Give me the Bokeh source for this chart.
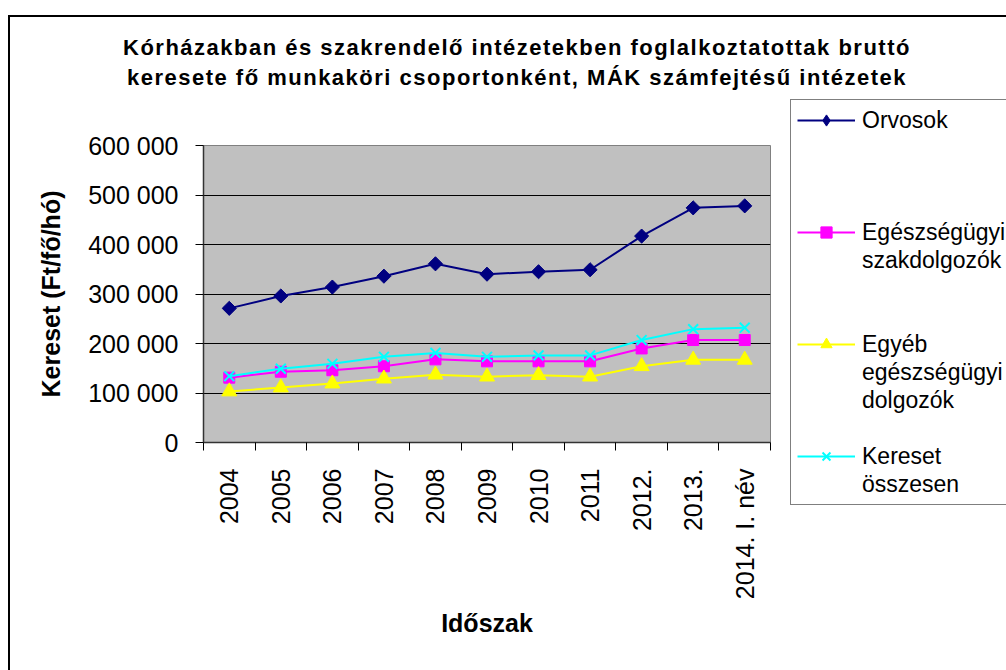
import numpy as np
from bokeh.plotting import figure
from bokeh.models import (FixedTicker, Legend, LegendItem, Range1d, Div)
from bokeh.layouts import column, row
from bokeh.embed import file_html
from bokeh.resources import INLINE

# ---------------- data ----------------
categories = ["2004", "2005", "2006", "2007", "2008", "2009", "2010", "2011",
              "2012.", "2013.", "2014. I. név"]
orvosok = [271000, 296000, 314000, 336000, 361000, 340000, 345000, 349000, 417000, 474000, 478000]
szakdolgozok = [131000, 143000, 146000, 154000, 168000, 164000, 164000, 164000, 190000, 207000, 207000]
egyeb = [103000, 111000, 119000, 129000, 137000, 133000, 136000, 133000, 154000, 167000, 167000]
osszesen = [134000, 149000, 159000, 173000, 181000, 173000, 176000, 176000, 207000, 229000, 232000]
y_ticks = [0, 100000, 200000, 300000, 400000, 500000, 600000]
y_tick_labels = ["0", "100 000", "200 000", "300 000", "400 000", "500 000", "600 000"]
series_names = ["Orvosok", "Egészségügyi\nszakdolgozók", "Egyéb\negészségügyi\ndolgozók",
                "Kereset\nösszesen"]
title_lines = ["Kórházakban és szakrendelő intézetekben foglalkoztatottak bruttó",
               "keresete fő munkaköri csoportonként, MÁK számfejtésű intézetek"]
y_title = "Kereset (Ft/fő/hó)"
x_title = "Időszak"

FONT = "Liberation Sans"

xs = [i + 0.5 for i in range(len(categories))]
x_bounds = list(range(len(categories) + 1))

series_styles = [
    dict(color="#000080", marker="square", angle=np.pi / 4, size=10, legend_marker="diamond"),
    dict(color="#FF00FF", marker="square", angle=0, size=11, legend_marker="square"),
    dict(color="#FFFF00", marker="triangle", angle=0, size=15, legend_marker="triangle"),
    dict(color="#00FFFF", marker="x", angle=0, size=14, legend_marker="x"),
]
series_values = [orvosok, szakdolgozok, egyeb, osszesen]

# ---------------- title ----------------
title_div = Div(
    text=("<div style=\"font-family:'Liberation Sans',Arial,sans-serif;font-weight:bold;"
          "font-size:22px;line-height:30px;letter-spacing:1.5px;text-align:center;"
          "padding-left:113px;padding-top:16px;white-space:nowrap;color:black\">"
          + "<br>".join(title_lines) + "</div>"),
    width=996, height=80, margin=0)

# ---------------- main figure ----------------
p = figure(width=776, height=573, x_range=Range1d(0, len(categories)),
           y_range=Range1d(0, 600000), output_backend="svg", toolbar_location=None,
           min_border_left=193, min_border_right=16, min_border_top=48,
           min_border_bottom=228)
p.frame_align = False
p.background_fill_color = "#C0C0C0"
p.border_fill_color = "white"
p.outline_line_color = "#808080"
p.outline_line_width = 1

p.xgrid.visible = False
p.ygrid.ticker = FixedTicker(ticks=y_ticks)
p.ygrid.grid_line_color = "black"
p.ygrid.grid_line_width = 1

xa = p.xaxis[0]
xa.ticker = FixedTicker(ticks=xs, minor_ticks=x_bounds)
xa.major_label_overrides = {x: c for x, c in zip(xs, categories)}
xa.major_label_orientation = np.pi / 2
xa.major_tick_out = 0
xa.major_tick_in = 0
xa.minor_tick_out = 8
xa.minor_tick_in = 0
xa.minor_tick_line_color = "black"
xa.axis_line_color = "#333333"
xa.axis_line_width = 1.5
xa.major_label_text_font = FONT
xa.major_label_text_font_size = "25px"
xa.major_label_text_color = "black"
xa.major_label_standoff = 18
xa.axis_label = x_title
xa.axis_label_text_font = FONT
xa.axis_label_text_font_style = "bold"
xa.axis_label_text_font_size = "25px"
xa.axis_label_text_color = "black"
xa.axis_label_standoff = 7

ya = p.yaxis[0]
ya.ticker = FixedTicker(ticks=y_ticks)
ya.major_label_overrides = {t: l for t, l in zip(y_ticks, y_tick_labels)}
ya.major_tick_out = 8
ya.major_tick_in = 0
ya.minor_tick_out = 0
ya.minor_tick_in = 0
ya.major_tick_line_color = "black"
ya.axis_line_color = "#333333"
ya.axis_line_width = 1.5
ya.major_label_text_font = FONT
ya.major_label_text_font_size = "25px"
ya.major_label_text_color = "black"
ya.major_label_standoff = 17
ya.axis_label = y_title
ya.axis_label_text_font = FONT
ya.axis_label_text_font_style = "bold"
ya.axis_label_text_font_size = "25px"
ya.axis_label_text_color = "black"
ya.axis_label_standoff = 20

for vals, st in zip(series_values, series_styles):
    p.line(xs, vals, line_color=st["color"], line_width=2)
    p.scatter(xs, vals, marker=st["marker"], angle=st["angle"], size=st["size"],
              fill_color=st["color"], line_color=st["color"],
              line_width=2 if st["marker"] == "x" else 1)

# ---------------- legend panel (own canvas, series styles as legend keys) ----------------
lf = figure(width=220, height=573, x_range=Range1d(0, 1), y_range=Range1d(-2, -1),
            x_axis_type=None, y_axis_type=None, output_backend="svg",
            toolbar_location=None, min_border=0)
lf.frame_align = False
lf.min_border_left = lf.min_border_right = lf.min_border_top = lf.min_border_bottom = 0
lf.outline_line_color = None
lf.grid.visible = False
lf.background_fill_color = "white"
lf.border_fill_color = "white"

dummy = lf.line([xs[0]], [0], line_alpha=0)
key_rends = []
for vals, st in zip(series_values, series_styles):
    kl = lf.line(xs, vals, line_color=st["color"], line_width=2)
    km = lf.scatter(xs, vals, marker=st["legend_marker"], size=st["size"],
                    fill_color=st["color"], line_color=st["color"],
                    line_width=2 if st["marker"] == "x" else 1)
    key_rends.append([kl, km])

row_counts = [4, 4, 4, 2]
items = []
for name, rends, nrows in zip(series_names, key_rends, row_counts):
    lines = name.split("\n")
    for i in range(nrows):
        lab = lines[i] if i < len(lines) else " "
        items.append(LegendItem(label=lab, renderers=rends if i == 0 else [dummy]))

legend = Legend(items=items, location=(4, 165), orientation="vertical",
                spacing=0, padding=6, margin=0, label_height=28, glyph_height=28,
                glyph_width=58, label_standoff=7,
                label_text_font=FONT, label_text_font_size="23px",
                label_text_color="black", label_text_baseline="middle",
                border_line_color="black", border_line_width=1,
                background_fill_color="white", background_fill_alpha=1)
lf.add_layout(legend)

root = column(title_div, row(p, lf, spacing=0), spacing=0,
              styles={"margin-left": "8px", "margin-top": "15px",
                      "border-left": "2px solid black", "border-top": "2px solid black"})

open("out.html", "w").write(file_html(root, INLINE))
